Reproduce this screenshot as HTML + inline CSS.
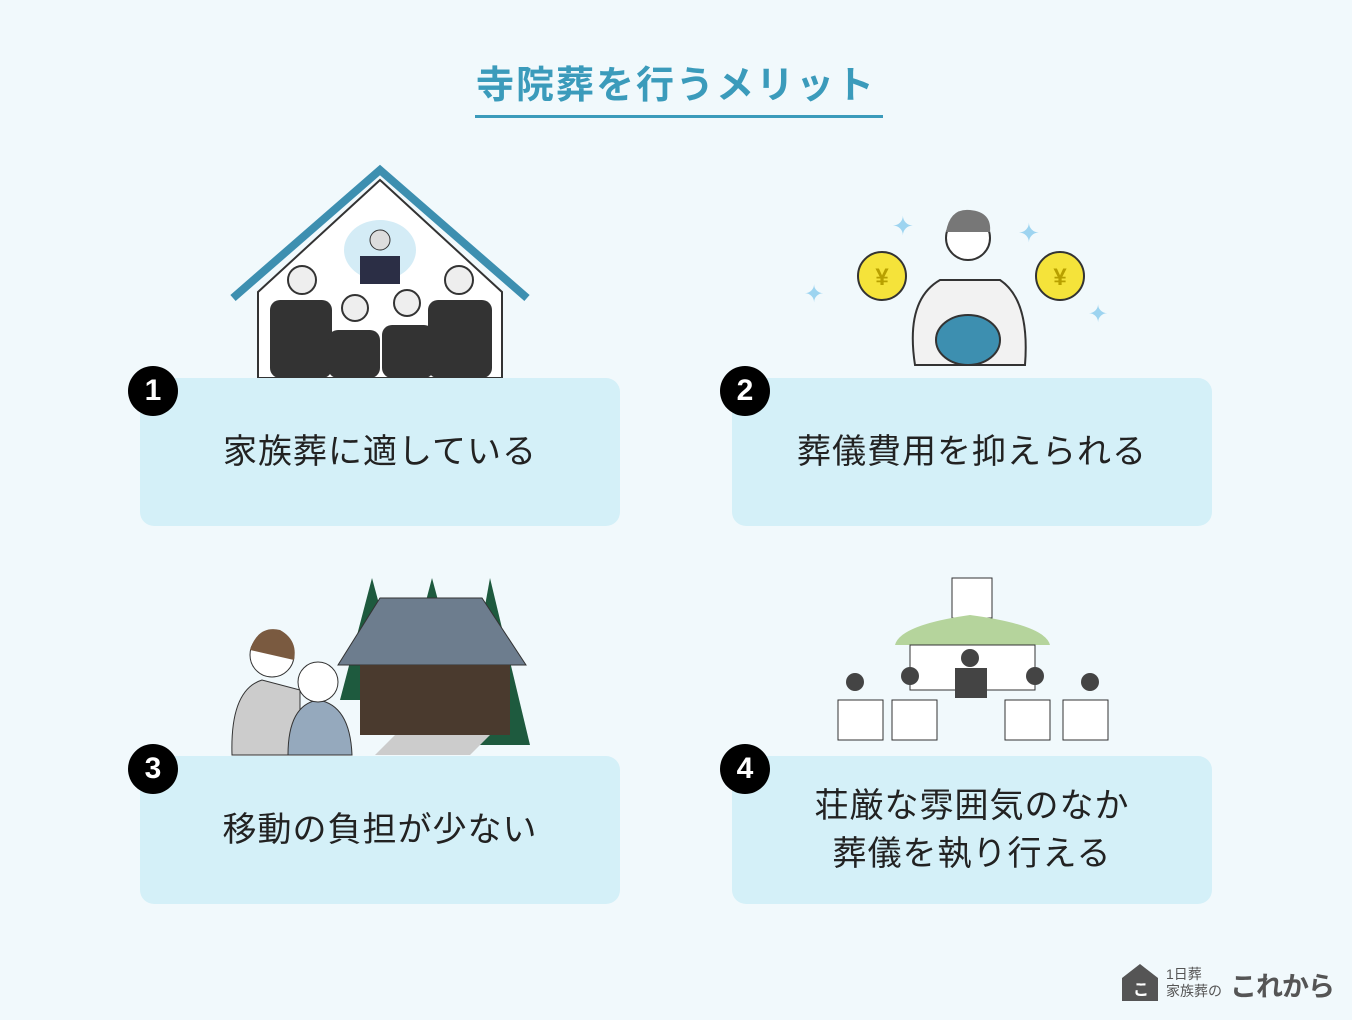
<!DOCTYPE html>
<html><head><meta charset="utf-8"><style>
body{margin:0;width:1352px;height:1020px;background:#f1f9fc;position:relative;overflow:hidden;font-family:"Liberation Sans","Noto Sans CJK JP",sans-serif}
.t{position:absolute;left:0;width:1352px;top:54px;text-align:center;font-size:38px;font-weight:bold;color:#3b9bbb;letter-spacing:2px}
.ul{position:absolute;left:475px;width:408px;top:115px;height:3px;background:#3b9bbb}
.card{position:absolute;width:480px;height:148px;background:#d4f0f8;border-radius:14px;display:flex;align-items:center;justify-content:center;text-align:center;font-size:34px;color:#222;line-height:48px;letter-spacing:1px}
.n{position:absolute;width:50px;height:50px;border-radius:50%;background:#000;color:#fff;font-size:30px;font-weight:bold;display:flex;align-items:center;justify-content:center;z-index:3}
svg{position:absolute;left:0;top:0}
</style></head><body>
<div class="t">寺院葬を行うメリット</div><div class="ul"></div>
<svg width="1352" height="1020">
<polygon points="258,292 380,180 502,292 502,378 258,378" fill="#fff" stroke="#333" stroke-width="2"/>
<polyline points="233,298 380,170 527,298" fill="none" stroke="#3d8fb0" stroke-width="8"/>
<ellipse cx="380" cy="250" rx="36" ry="30" fill="#d4ecf6"/>
<circle cx="380" cy="240" r="10" fill="#ddd" stroke="#333"/><rect x="360" y="256" width="40" height="28" fill="#2b2e45"/>
<g fill="#333"><rect x="270" y="300" width="62" height="78" rx="10"/><rect x="328" y="330" width="52" height="48" rx="10"/><rect x="382" y="325" width="52" height="53" rx="10"/><rect x="428" y="300" width="64" height="78" rx="10"/></g>
<g fill="#eee" stroke="#333" stroke-width="2"><circle cx="302" cy="280" r="14"/><circle cx="355" cy="308" r="13"/><circle cx="407" cy="303" r="13"/><circle cx="459" cy="280" r="14"/></g>
<path d="M915,365 Q905,300 940,280 L1000,280 Q1030,300 1025,365 Z" fill="#f2f2f2" stroke="#333" stroke-width="2"/>
<circle cx="968" cy="238" r="22" fill="#fff" stroke="#333" stroke-width="2"/><path d="M946,232 Q950,208 970,210 Q992,212 990,232" fill="#777"/>
<ellipse cx="968" cy="340" rx="32" ry="25" fill="#3d8fb0" stroke="#333" stroke-width="2"/>
<g fill="#f5e33a" stroke="#333" stroke-width="2"><circle cx="882" cy="276" r="24"/><circle cx="1060" cy="276" r="24"/></g>
<g font-size="24" font-weight="bold" fill="#b8a000" text-anchor="middle"><text x="882" y="285">¥</text><text x="1060" y="285">¥</text></g>
<g fill="#9dd4f0"><text x="892" y="235" font-size="26">✦</text><text x="1018" y="242" font-size="26">✦</text><text x="804" y="302" font-size="24">✦</text><text x="1088" y="322" font-size="24">✦</text></g>
<g fill="#1e5a3e"><polygon points="372,578 340,700 405,700"/><polygon points="432,578 400,700 465,700"/><polygon points="490,578 460,745 530,745"/></g>
<polygon points="338,665 380,598 482,598 526,665" fill="#6d7d8e" stroke="#333"/>
<rect x="360" y="665" width="150" height="70" fill="#4a3a2e"/>
<polygon points="375,755 470,755 490,735 395,735" fill="#ccc"/>
<path d="M232,755 Q230,690 262,680 L300,690 L300,755Z" fill="#ccc" stroke="#333"/>
<circle cx="272" cy="655" r="22" fill="#fff" stroke="#333"/><path d="M250,650 Q258,625 280,630 Q298,640 294,660" fill="#7a5a40"/>
<path d="M288,755 Q288,705 318,700 Q350,705 352,755Z" fill="#95a9bd" stroke="#333"/>
<circle cx="318" cy="682" r="20" fill="#fff" stroke="#333"/>
<rect x="952" y="578" width="40" height="40" fill="#fff" stroke="#333"/>
<path d="M895,645 Q900,625 970,615 Q1045,625 1050,645 Z" fill="#b5d49c"/>
<rect x="910" y="645" width="125" height="45" fill="#fff" stroke="#333"/>
<g fill="#fff" stroke="#333"><rect x="838" y="700" width="45" height="40"/><rect x="892" y="700" width="45" height="40"/><rect x="1005" y="700" width="45" height="40"/><rect x="1063" y="700" width="45" height="40"/></g>
<g fill="#444"><circle cx="855" cy="682" r="9"/><circle cx="910" cy="676" r="9"/><circle cx="970" cy="658" r="9"/><circle cx="1035" cy="676" r="9"/><circle cx="1090" cy="682" r="9"/><rect x="955" y="668" width="32" height="30"/></g>
</svg>
<div class="card" style="left:140px;top:378px">家族葬に適している</div>
<div class="card" style="left:732px;top:378px">葬儀費用を抑えられる</div>
<div class="card" style="left:140px;top:756px">移動の負担が少ない</div>
<div class="card" style="left:732px;top:756px">荘厳な雰囲気のなか<br>葬儀を執り行える</div>
<div class="n" style="left:128px;top:366px">1</div><div class="n" style="left:720px;top:366px">2</div>
<div class="n" style="left:128px;top:744px">3</div><div class="n" style="left:720px;top:744px">4</div>
<svg width="1352" height="1020" style="pointer-events:none"><polygon points="1122,978 1140,964 1158,978 1158,1001 1122,1001" fill="#555"/><text x="1133" y="995" fill="#fff" font-size="16" font-weight="bold">こ</text></svg>
<div style="position:absolute;left:1166px;top:966px;font-size:14px;color:#555;line-height:17px;white-space:nowrap">1日葬<br>家族葬の</div>
<div style="position:absolute;left:1230px;top:965px;font-size:27px;font-weight:bold;color:#555;white-space:nowrap;letter-spacing:-1px">これから</div>
</body></html>
